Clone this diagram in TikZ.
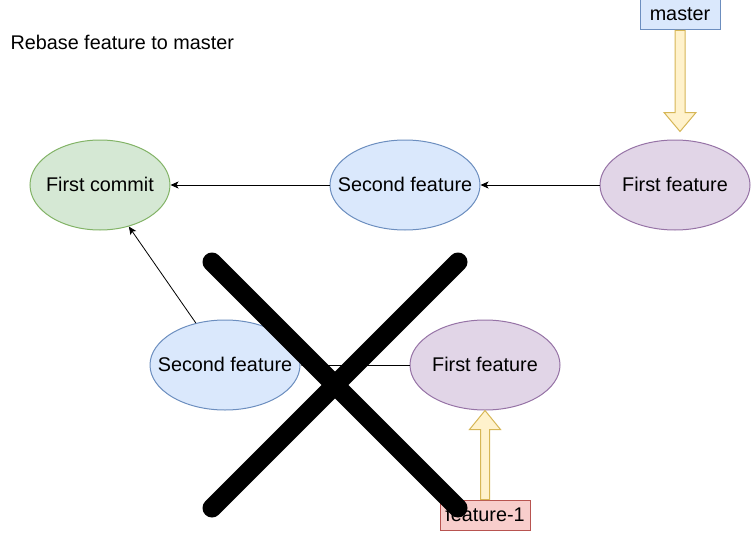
\documentclass[tikz,border=0pt]{standalone}
\usepackage{fontspec}
\setmainfont{Liberation Sans}
\usetikzlibrary{shapes.geometric,arrows.meta}
\definecolor{gfill}{HTML}{D5E8D4}\definecolor{gline}{HTML}{82B366}
\definecolor{bfill}{HTML}{DAE8FC}\definecolor{bline}{HTML}{6C8EBF}
\definecolor{pfill}{HTML}{E1D5E7}\definecolor{pline}{HTML}{9673A6}
\definecolor{rfill}{HTML}{F8CECC}\definecolor{rline}{HTML}{B85450}
\definecolor{yfill}{HTML}{FFF2CC}\definecolor{yline}{HTML}{D6B656}
\newcommand{\zw}[1]{\makebox[0pt]{\raisebox{1.5pt}{#1}}}
\begin{document}
\begin{tikzpicture}[x=1pt,y=-1pt,
  every node/.style={font=\fontsize{19.8}{23}\selectfont, text=black},
  commit/.style={ellipse, draw, line width=1pt, inner sep=0pt, minimum height=90pt},
  label box/.style={rectangle, draw, line width=1pt, inner sep=0pt, minimum height=30pt},
  conn/.style={line width=0.8pt, -{Stealth[length=8pt,width=7pt,inset=2pt]}},
  blockarrow/.style={fill=yfill, draw=yline, line width=1pt, line join=miter},
  cross/.style={line width=19pt, line cap=round, black}]
\useasboundingbox (0,0) rectangle (751,551);
\node[anchor=west] (title) at (7,42) {Rebase feature to master};
\node[commit, fill=gfill, draw=gline, minimum width=140pt] (fc) at (100,185) {\zw{First commit}};
\node[commit, fill=bfill, draw=bline, minimum width=150pt] (sf1) at (405,185) {\zw{Second feature}};
\node[commit, fill=pfill, draw=pline, minimum width=150pt] (ff1) at (675,185) {\zw{First feature}};
\node[commit, fill=bfill, draw=bline, minimum width=150pt] (sf2) at (225,365) {\zw{Second feature}};
\node[commit, fill=pfill, draw=pline, minimum width=150pt] (ff2) at (485,365) {\zw{First feature}};
\node[label box, fill=bfill, draw=bline, minimum width=80pt] (master) at (680,15) {\zw{master}};
\node[label box, fill=rfill, draw=rline, minimum width=90pt] (feat) at (485,515) {\zw{feature-1}};
\draw[conn] (sf1) -- (fc);
\draw[conn] (ff1) -- (sf1);
\draw[conn] (sf2) -- (fc);
\draw[conn] (ff2) -- (sf2);
% block arrows
\draw[blockarrow] (master.south) ++(-5,0) -- ++(0,82) -- ++(-11,0) -- ++(16,19) -- ++(16,-19) -- ++(-11,0) -- ++(0,-82) -- cycle;
\draw[blockarrow] (feat.north) ++(-4.5,0) -- ++(0,-70) -- ++(-11,0) -- ++(15.5,-19) -- ++(15.5,19) -- ++(-11,0) -- ++(0,70) -- cycle;
% cross
\coordinate (xa) at (212,262);
\coordinate (xb) at (458,508);
\coordinate (xc) at (458,262);
\coordinate (xd) at (212,508);
\draw[cross] (xa) -- (xb);
\draw[cross] (xc) -- (xd);
\end{tikzpicture}
\end{document}
